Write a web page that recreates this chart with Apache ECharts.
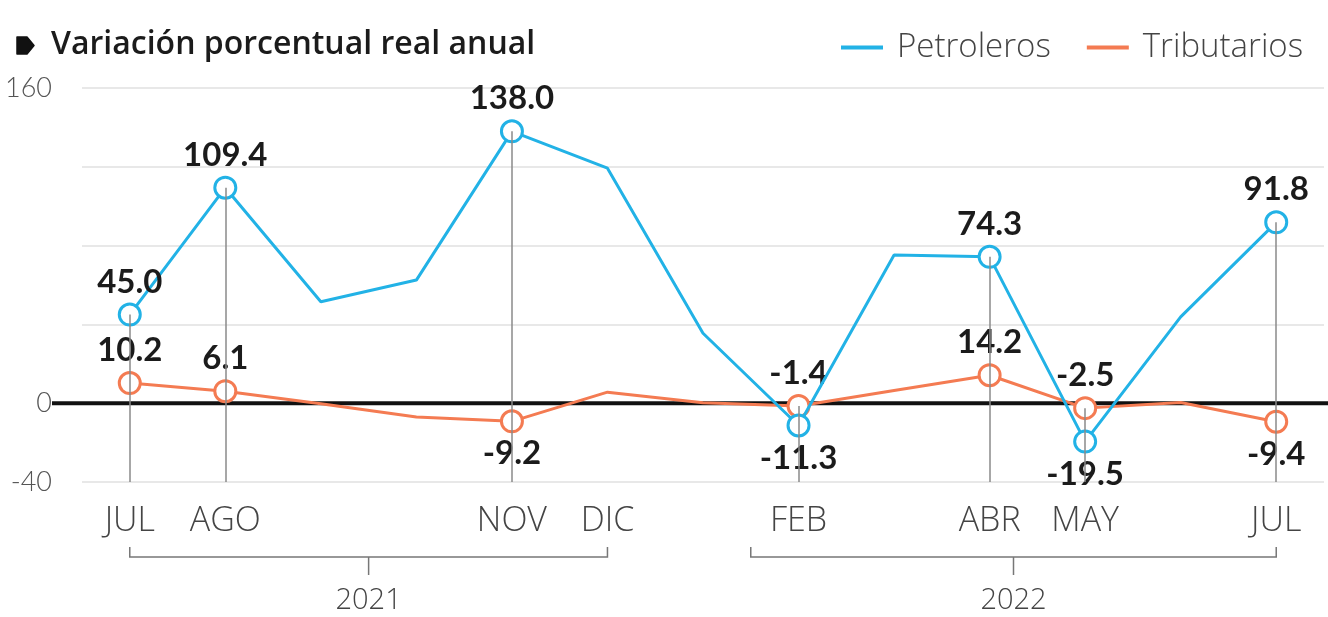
<!DOCTYPE html>
<html>
<head>
<meta charset="utf-8">
<style>
  html, body { margin: 0; padding: 0; background: #fff; }
  #chart { width: 1328px; height: 617px; }
</style>
<script src="https://cdn.jsdelivr.net/npm/echarts@6/dist/echarts.min.js"></script>
</head>
<body>
<div id="chart"></div>
<script>
// meses jul 2021 - jul 2022
var months = ['JUL-21', 'AGO-21', 'SEP-21', 'OCT-21', 'NOV-21', 'DIC-21', 'ENE-22', 'FEB-22', 'MAR-22', 'ABR-22', 'MAY-22', 'JUN-22', 'JUL-22'];
var shownMonths = ['JUL-21', 'AGO-21', 'NOV-21', 'DIC-21', 'FEB-22', 'ABR-22', 'MAY-22', 'JUL-22'];
var petroleros = [45.0, 109.4, 51.5, 62.5, 138.0, 119.3, 35.5, -11.3, 75.2, 74.3, -19.5, 43.8, 91.8];
var tributarios = [10.2, 6.1, -0.3, -7.0, -9.2, 5.6, 0.2, -1.4, 6.5, 14.2, -2.5, 0.4, -9.4];
var labeled = [0, 1, 4, 7, 9, 10, 12];      // puntos con marcador y etiqueta
var petroBelow = [7, 10];                   // etiqueta debajo
var tribBelow = [4, 12];
var yTicks = [160, 0, -40];
var years = [
    { label: '2021', from: 0, to: 5 },
    { label: '2022', from: 6.5, to: 12 }
];

var FONT = '"Open Sans", Lato, sans-serif';
var NUMFONT = 'Lato, "Open Sans", sans-serif';
var BLUE = '#22b2e6';
var ORANGE = '#f47b52';

function buildData(values, below) {
    return values.map(function (v, i) {
        if (labeled.indexOf(i) < 0) {
            return { value: v, symbol: 'none', label: { show: false } };
        }
        return {
            value: v,
            label: {
                show: true,
                position: below.indexOf(i) >= 0 ? 'bottom' : 'top'
            }
        };
    });
}

var labelStyle = {
    show: false,
    fontFamily: NUMFONT,
    fontSize: 33,
    fontWeight: 'bold',
    color: '#1b1b1b',
    distance: 4,
    formatter: function (p) { return p.value.toFixed(1); }
};

// lineas verticales desde el punto mas alto hasta -40
var dropLines = labeled.map(function (i) {
    var top = Math.max(petroleros[i], tributarios[i]);
    return [{ coord: [months[i], top] }, { coord: [months[i], yTicks[2]] }];
});

var chart = echarts.init(document.getElementById('chart'));
var option = {
    animation: false,
    title: {
        text: 'Variación porcentual real anual',
        left: 46,
        top: 24,
        textStyle: { fontFamily: FONT, fontSize: 32, fontWeight: 600, color: '#1b1b1b' }
    },
    legend: {
        left: 836,
        top: 26,
        icon: 'rect',
        itemWidth: 42,
        itemHeight: 4,
        itemGap: 36,
        data: [
            { name: 'Petroleros', itemStyle: { color: BLUE, borderWidth: 0 } },
            { name: 'Tributarios', itemStyle: { color: ORANGE, borderWidth: 0 } }
        ],
        textStyle: { fontFamily: FONT, fontSize: 33, fontWeight: 300, color: '#444', padding: [0, 0, 0, 9] }
    },
    grid: { left: 82, right: 4, top: 88, bottom: 135 },
    xAxis: {
        type: 'category',
        data: months,
        boundaryGap: true,
        axisLine: { show: false },
        axisTick: { show: false },
        axisLabel: {
            interval: 0,
            margin: 22,
            fontFamily: FONT,
            fontSize: 34,
            fontWeight: 300,
            color: '#444',
            formatter: function (v) {
                return shownMonths.indexOf(v) >= 0 ? v.split('-')[0] : '';
            }
        }
    },
    yAxis: {
        type: 'value',
        min: -40,
        max: 160,
        interval: 40,
        axisLine: { show: false },
        axisTick: { show: false },
        splitLine: { lineStyle: { color: '#e8e8e8', width: 2 } },
        axisLabel: {
            margin: 30,
            fontFamily: NUMFONT,
            fontSize: 27,
            fontWeight: 300,
            color: '#555',
            formatter: function (v) { return yTicks.indexOf(v) >= 0 ? String(v) : ''; }
        }
    },
    series: [
        {
            name: 'guias',
            type: 'line',
            data: [],
            z: 1,
            silent: true,
            markLine: {
                silent: true,
                symbol: 'none',
                label: { show: false },
                lineStyle: { color: '#8a8a8a', width: 1.5, type: 'solid' },
                data: dropLines
            }
        },
        {
            name: 'Tributarios',
            type: 'line',
            z: 3,
            data: buildData(tributarios, tribBelow),
            color: ORANGE,
            symbol: 'circle',
            symbolSize: 21,
            lineStyle: { width: 3, color: ORANGE },
            itemStyle: { color: '#fff', borderColor: ORANGE, borderWidth: 3 },
            label: labelStyle
        },
        {
            name: 'Petroleros',
            type: 'line',
            z: 4,
            data: buildData(petroleros, petroBelow),
            color: BLUE,
            symbol: 'circle',
            symbolSize: 21,
            lineStyle: { width: 3, color: BLUE },
            itemStyle: { color: '#fff', borderColor: BLUE, borderWidth: 3 },
            label: labelStyle
        }
    ]
};
chart.setOption(option);

// llaves de año y linea de cero
function xAt(idx) {
    var lo = Math.floor(idx), hi = Math.ceil(idx);
    var a = chart.convertToPixel({ xAxisIndex: 0 }, months[lo]);
    var b = chart.convertToPixel({ xAxisIndex: 0 }, months[hi]);
    return a + (b - a) * (idx - lo);
}
var y0 = chart.convertToPixel({ yAxisIndex: 0 }, 0);
var graphics = [
    {
        type: 'line', z: 1,
        shape: { x1: 52, y1: y0, x2: 1328, y2: y0 },
        style: { stroke: '#111', lineWidth: 4 }
    },
    {
        type: 'polygon',
        shape: { points: [[17, 37], [27, 37], [34, 45.5], [27, 54], [17, 54]] },
        style: { fill: '#111', lineJoin: 'round', stroke: '#111', lineWidth: 1.5 }
    }
];
years.forEach(function (yr) {
    var xa = xAt(yr.from), xb = xAt(yr.to), xc = (xa + xb) / 2;
    graphics.push({
        type: 'polyline',
        shape: { points: [[xa, 547], [xa, 557], [xb, 557], [xb, 547]] },
        style: { stroke: '#777', lineWidth: 1.5, fill: null }
    });
    graphics.push({
        type: 'line',
        shape: { x1: xc, y1: 557, x2: xc, y2: 575 },
        style: { stroke: '#777', lineWidth: 1.5 }
    });
    graphics.push({
        type: 'text',
        x: xc, y: 601,
        style: {
            text: yr.label, fontFamily: FONT, fontSize: 29, fontWeight: 300,
            fill: '#444', align: 'center', verticalAlign: 'middle'
        }
    });
});
chart.setOption({ graphic: graphics });
</script>
</body>
</html>
